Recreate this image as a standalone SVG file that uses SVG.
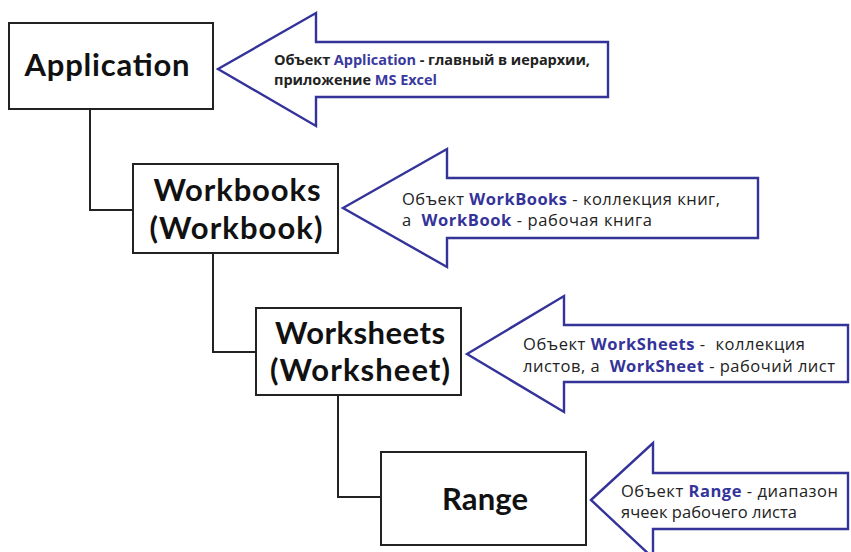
<svg xmlns="http://www.w3.org/2000/svg" width="851" height="552" viewBox="0 0 851 552">
<style>
.box{fill:#fff;stroke:#222;stroke-width:2}
.lbl{font-family:Lato,"Open Sans","Liberation Sans",sans-serif;font-weight:bold;font-size:31px;fill:#111;text-anchor:middle}
.arrow{fill:#fff;stroke:#34339a;stroke-width:2.4;stroke-linejoin:miter}
.note{font-family:"Open Sans","DejaVu Sans",sans-serif;font-size:16.5px;fill:#222;white-space:pre}
.nb{font-weight:bold;font-size:14.5px}
.hl{fill:#34339a;font-weight:bold}
.hr{fill:#3a3a9e}
.conn{fill:none;stroke:#222;stroke-width:2}
</style>
<rect width="851" height="552" fill="#fff"/>
<g id="connectors">
<path class="conn" d="M90,109 V210 H133"/>
<path class="conn" d="M213,253 V352 H256"/>
<path class="conn" d="M338,395 V497 H381"/>
</g>
<g id="application">
<rect class="box" x="9" y="23" width="204" height="86"/>
<text class="lbl" x="107" y="76" textLength="165">Application</text>
</g>
<g id="workbooks">
<rect class="box" x="133" y="164" width="205" height="89"/>
<text class="lbl" x="237" y="201" textLength="167">Workbooks</text>
<text class="lbl" x="236" y="239" textLength="173">(Workbook)</text>
</g>
<g id="worksheets">
<rect class="box" x="256" y="308" width="205" height="87"/>
<text class="lbl" x="360" y="344" textLength="170">Worksheets</text>
<text class="lbl" x="360" y="381" textLength="180">(Worksheet)</text>
</g>
<g id="range">
<rect class="box" x="381" y="452" width="205" height="93"/>
<text class="lbl" x="485" y="510" textLength="86">Range</text>
</g>
<g id="note-application">
<path class="arrow" d="M218,69 L316,13 L316,42 L608,42 L608,97 L316,97 L316,126 Z"/>
<text class="note nb" x="274" y="65" textLength="316">Объект <tspan class="hr">Application</tspan> - главный в иерархии,</text>
<text class="note nb" x="274" y="85" textLength="163">приложение <tspan class="hr">MS Excel</tspan></text>
</g>
<g id="note-workbooks">
<path class="arrow" d="M343,208 L447,149 L447,178 L758,178 L758,238 L447,238 L447,267 Z"/>
<text class="note" x="402" y="205" textLength="318">Объект <tspan class="hl">WorkBooks</tspan> - коллекция книг,</text>
<text class="note" x="402" y="226" textLength="250">а  <tspan class="hl">WorkBook</tspan> - рабочая книга</text>
</g>
<g id="note-worksheets">
<path class="arrow" d="M467,354 L564,296 L564,325 L848,325 L848,382 L564,382 L564,412 Z"/>
<text class="note" x="523" y="350" textLength="282">Объект <tspan class="hl">WorkSheets</tspan> -  коллекция</text>
<text class="note" x="523" y="372" textLength="312">листов, а  <tspan class="hl">WorkSheet</tspan> - рабочий лист</text>
</g>
<g id="note-range">
<path class="arrow" d="M591,500 L653,443 L653,473 L848,473 L848,529 L653,529 L653,558 Z"/>
<text class="note" x="621" y="497" textLength="217">Объект <tspan class="hl">Range</tspan> - диапазон</text>
<text class="note" x="621" y="518" textLength="176">ячеек рабочего листа</text>
</g>
</svg>
